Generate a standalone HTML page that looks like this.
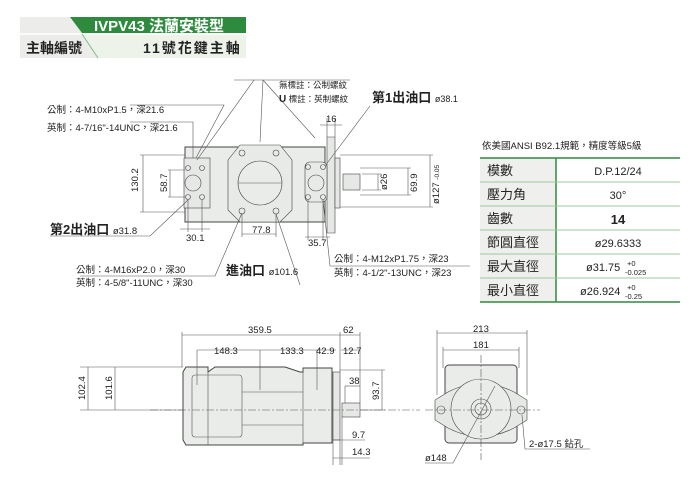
<!DOCTYPE html>
<html><head><meta charset="utf-8"><style>
html,body{margin:0;padding:0;background:#fff;}
svg{display:block;font-family:"Liberation Sans","Noto Sans CJK TC",sans-serif;}
</style></head><body>
<svg width="700" height="488" viewBox="0 0 700 488" xmlns="http://www.w3.org/2000/svg">
<rect x="20" y="17" width="226" height="41" fill="#ececea"/>
<polygon points="70,17 246,17 246,33 82,33" fill="#2e8b3e"/>
<polygon points="82,35 246,35 246,58 98,58" fill="#eef3ea"/>
<line x1="20" y1="34" x2="246" y2="34" stroke="#fff" stroke-width="1.5"/>
<line x1="82" y1="34" x2="98" y2="58" stroke="#7bbf82" stroke-width="1"/>
<text x="94" y="31" font-size="15" font-weight="bold" fill="#fff">IVPV43 法蘭安裝型</text>
<text x="26" y="53" font-size="14" font-weight="bold" fill="#222">主軸編號</text>
<text x="143" y="53" font-size="14" font-weight="bold" fill="#222" letter-spacing="2">11號花鍵主軸</text>

<g stroke="#555" stroke-width="0.6" fill="none">
<rect x="185" y="147" width="140" height="75" fill="#eaecea" stroke="#444" stroke-width="1"/>
<rect x="184" y="158" width="26" height="50" fill="#e6e8e6" stroke="#444"/>
<polygon points="327,137 335,137 335,233 327,233" fill="#e6e8e6" stroke="#444"/>
<rect x="335" y="158" width="5" height="50" fill="#e6e8e6" stroke="#444"/>
<rect x="343" y="174" width="17" height="16" fill="#e6e8e6" stroke="#444"/>
<polygon points="240,145 280,145 292,160 292,210 280,222 240,222 228,210 228,160" fill="#e8eae8" stroke="#444"/>
<circle cx="260" cy="183" r="22" fill="#eaecea" stroke="#444"/>
<line x1="238" y1="183" x2="282" y2="183"/>
<rect x="305" y="162" width="22" height="40" rx="5" fill="#e8eae8" stroke="#444"/>
<circle cx="316" cy="183" r="8" stroke="#444"/>
<circle cx="193" cy="183" r="8" stroke="#444"/>
<circle cx="242" cy="153" r="3" stroke="#444"/><circle cx="276" cy="153" r="3" stroke="#444"/>
<circle cx="242" cy="211" r="3" stroke="#444"/><circle cx="276" cy="211" r="3" stroke="#444"/>
<circle cx="188" cy="168" r="2.5" stroke="#444"/><circle cx="202" cy="168" r="2.5" stroke="#444"/>
<circle cx="188" cy="197" r="2.5" stroke="#444"/><circle cx="202" cy="197" r="2.5" stroke="#444"/>
<circle cx="308" cy="167" r="2.5" stroke="#444"/><circle cx="323" cy="167" r="2.5" stroke="#444"/>
<circle cx="308" cy="197" r="2.5" stroke="#444"/><circle cx="323" cy="197" r="2.5" stroke="#444"/>
<line x1="140" y1="155" x2="185" y2="155"/><line x1="140" y1="212" x2="185" y2="212"/>
<line x1="143" y1="155" x2="143" y2="212"/>
<line x1="168" y1="170" x2="185" y2="170"/><line x1="168" y1="197" x2="185" y2="197"/>
<line x1="170" y1="170" x2="170" y2="197"/>
<line x1="188" y1="200" x2="188" y2="232"/><line x1="202" y1="200" x2="202" y2="232"/>
<line x1="180" y1="229" x2="210" y2="229"/>
<line x1="242" y1="214" x2="242" y2="237"/><line x1="276" y1="214" x2="276" y2="237"/>
<line x1="242" y1="234" x2="276" y2="234"/>
<line x1="308" y1="200" x2="308" y2="240"/><line x1="323" y1="200" x2="323" y2="240"/>
<line x1="305" y1="237" x2="330" y2="237"/>
<line x1="327" y1="118" x2="327" y2="137"/><line x1="335" y1="118" x2="335" y2="137"/>
<line x1="320" y1="125" x2="342" y2="125"/>
<line x1="340" y1="155" x2="433" y2="155"/><line x1="340" y1="207" x2="433" y2="207"/>
<line x1="430" y1="155" x2="430" y2="207"/>
<line x1="360" y1="168" x2="411" y2="168"/><line x1="360" y1="195" x2="411" y2="195"/>
<line x1="408" y1="168" x2="408" y2="195"/>
<line x1="362" y1="174" x2="381" y2="174"/><line x1="362" y1="190" x2="381" y2="190"/>
<line x1="378" y1="174" x2="378" y2="190"/>
<polyline points="130,105 224,105 196,158"/>
<polyline points="130,122 193,122 193,158"/>
<polyline points="234,80 254,80 197,160"/>
<polyline points="254,80 350,80"/>
<line x1="263" y1="80" x2="260" y2="142"/>
<line x1="263" y1="80" x2="315" y2="138"/>
<polyline points="370,106 325,166"/>
<polyline points="50,236 150,236 188,200"/>
<polyline points="80,276 215,276 242,213"/>
<polyline points="300,285 276,214"/>
<polyline points="330,266 470,266"/>
<polyline points="330,266 323,200"/>
<path d="M183,372 L186,367 L208,367 L208,372 L215,367 L285,367 L300,372 L303,372 L303,368 L332,368 L332,443 L303,443 L303,445 L210,445 L186,445 L183,440 Z" fill="#eaecea" stroke="#444" stroke-width="1"/>
<rect x="333" y="372" width="7" height="68" fill="#e6e8e6" stroke="#444"/>
<rect x="342" y="403" width="18" height="14" fill="#e6e8e6" stroke="#444"/>
<rect x="192" y="375" width="50" height="62" rx="3"/>
<line x1="208" y1="367" x2="208" y2="445"/>
<line x1="303" y1="368" x2="303" y2="443"/>
<line x1="242" y1="392" x2="303" y2="392"/><line x1="242" y1="425" x2="303" y2="425"/>
<line x1="150" y1="410" x2="420" y2="410" stroke-dasharray="8,2,2,2"/>
<line x1="182" y1="332" x2="182" y2="367"/><line x1="340" y1="332" x2="340" y2="372"/><line x1="360" y1="332" x2="360" y2="403"/>
<line x1="182" y1="335" x2="340" y2="335"/><line x1="340" y1="335" x2="360" y2="335"/>
<line x1="197" y1="350" x2="336" y2="350"/>
<line x1="197" y1="350" x2="197" y2="385"/><line x1="260" y1="350" x2="260" y2="390"/><line x1="317" y1="350" x2="317" y2="390"/><line x1="341" y1="350" x2="360" y2="350"/>
<line x1="80" y1="367" x2="183" y2="367"/><line x1="80" y1="410" x2="183" y2="410"/>
<line x1="88" y1="367" x2="88" y2="410"/><line x1="115" y1="367" x2="115" y2="410"/>
<line x1="340" y1="370" x2="385" y2="370"/><line x1="360" y1="410" x2="385" y2="410"/>
<line x1="382" y1="370" x2="382" y2="410"/>
<line x1="345" y1="386" x2="360" y2="386"/><line x1="345" y1="386" x2="345" y2="403"/>
<line x1="333" y1="440" x2="333" y2="465"/><line x1="340" y1="440" x2="340" y2="465"/><line x1="342" y1="417" x2="342" y2="465"/>
<line x1="333" y1="440" x2="365" y2="440"/><line x1="333" y1="458" x2="370" y2="458"/>
<rect x="445" y="365" width="72" height="78" rx="4" fill="#eaecea" stroke="#444" stroke-width="1"/>
<path d="M448,392 Q481,375 514,392 L527,400 L527,420 L514,428 Q481,445 448,428 L435,420 L435,400 Z" fill="#e6e8e6" stroke="#444"/>
<circle cx="481" cy="409" r="30" fill="#eaecea" stroke="#444"/>
<circle cx="481" cy="409" r="10" stroke="#444"/>
<circle cx="481" cy="409" r="6" stroke="#444"/>
<circle cx="441" cy="410" r="4" stroke="#444"/><circle cx="521" cy="410" r="4" stroke="#444"/>
<line x1="481" y1="355" x2="481" y2="460" stroke-dasharray="8,2,2,2"/>
<line x1="425" y1="410" x2="540" y2="410" stroke-dasharray="8,2,2,2"/>
<line x1="437" y1="330" x2="437" y2="395"/><line x1="527" y1="330" x2="527" y2="395"/>
<line x1="437" y1="333" x2="527" y2="333"/>
<line x1="443" y1="347" x2="443" y2="368"/><line x1="519" y1="347" x2="519" y2="368"/>
<line x1="443" y1="350" x2="519" y2="350"/>
<polyline points="425,463 453,463 495,386"/>
<polyline points="590,449 525,449 522,415"/>
</g>
<g font-size="9.5" fill="#222">
<text x="279" y="88" font-size="8.5">無標註：公制螺紋</text>
<text x="279" y="102" font-size="8.5"><tspan font-weight="bold" font-size="10">U</tspan> 標註：英制螺紋</text>
<text x="372" y="102" font-size="13" font-weight="bold">第1出油口 <tspan font-size="9" font-weight="normal">ø38.1</tspan></text>
<text x="47" y="113">公制：4-M10xP1.5，深21.6</text>
<text x="47" y="131">英制：4-7/16"-14UNC，深21.6</text>
<text x="326" y="122">16</text>
<text x="138" y="192" transform="rotate(-90 138 192)">130.2</text>
<text x="167" y="192" transform="rotate(-90 167 192)">58.7</text>
<text x="50" y="234" font-size="13" font-weight="bold">第2出油口 <tspan font-size="9.5" font-weight="normal">ø31.8</tspan></text>
<text x="186" y="241">30.1</text>
<text x="252" y="233">77.8</text>
<text x="308" y="246">35.7</text>
<text x="76" y="273">公制：4-M16xP2.0，深30</text>
<text x="76" y="286">英制：4-5/8"-11UNC，深30</text>
<text x="226" y="275" font-size="13" font-weight="bold">進油口 <tspan font-size="9.5" font-weight="normal">ø101.6</tspan></text>
<text x="334" y="262">公制：4-M12xP1.75，深23</text>
<text x="334" y="276">英制：4-1/2"-13UNC，深23</text>
<text x="387" y="190" transform="rotate(-90 387 190)">ø26</text>
<text x="417" y="192" transform="rotate(-90 417 192)">69.9</text>
<text x="439" y="204" transform="rotate(-90 439 204)">ø127 <tspan font-size="6.5">-0.05</tspan></text>
<text x="248" y="333">359.5</text><text x="343" y="333">62</text>
<text x="214" y="354">148.3</text><text x="280" y="354">133.3</text><text x="316" y="354">42.9</text><text x="343" y="354">12.7</text>
<text x="85" y="400" transform="rotate(-90 85 400)">102.4</text>
<text x="112" y="400" transform="rotate(-90 112 400)">101.6</text>
<text x="349" y="384">38</text>
<text x="379" y="400" transform="rotate(-90 379 400)">93.7</text>
<text x="352" y="438">9.7</text><text x="352" y="455">14.3</text>
<text x="473" y="332">213</text><text x="473" y="348">181</text>
<text x="425" y="461">ø148</text>
<text x="529" y="447">2-ø17.5 鉆孔</text>
<text x="482" y="149" font-size="9.5">依美國ANSI B92.1規範，精度等級5級</text>
</g>
<g>
<rect x="480" y="158" width="200" height="144" fill="#fff"/>
<rect x="480" y="158" width="76" height="144" fill="#eff0ee"/>
<g stroke="#2e8b3e" stroke-width="1.5"><line x1="480" y1="158" x2="680" y2="158"/><line x1="480" y1="302" x2="680" y2="302"/><line x1="556" y1="158" x2="556" y2="302"/></g>
<g stroke="#9cc9a0" stroke-width="1"><line x1="480" y1="182" x2="680" y2="182"/><line x1="480" y1="206" x2="680" y2="206"/><line x1="480" y1="230" x2="680" y2="230"/><line x1="480" y1="254" x2="680" y2="254"/><line x1="480" y1="278" x2="680" y2="278"/></g>
<g font-size="13" fill="#222">
<text x="487" y="175">模數</text><text x="487" y="199">壓力角</text><text x="487" y="223">齒數</text><text x="487" y="247">節圓直徑</text><text x="487" y="271">最大直徑</text><text x="487" y="295">最小直徑</text>
</g>
<g font-size="11" fill="#222" text-anchor="middle">
<text x="618" y="175">D.P.12/24</text><text x="618" y="199">30°</text><text x="618" y="224" font-weight="bold" font-size="13">14</text><text x="618" y="247">ø29.6333</text>
</g>
<g font-size="11" fill="#222">
<text x="586" y="271">ø31.75</text><text x="627" y="266" font-size="7.5">+0</text><text x="625" y="275" font-size="7.5">-0.025</text>
<text x="580" y="295">ø26.924</text><text x="627" y="290" font-size="7.5">+0</text><text x="625" y="299" font-size="7.5">-0.25</text>
</g>
</g>
</svg>
</body></html>
